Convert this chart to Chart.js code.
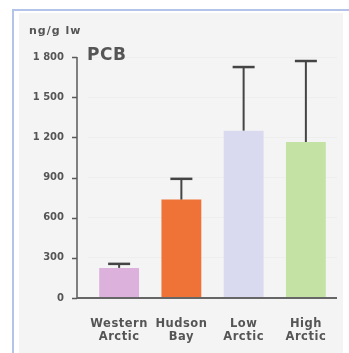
<!DOCTYPE html>
<html>
<head>
<meta charset="utf-8">
<script src="https://cdn.jsdelivr.net/npm/chart.js@4.4.0/dist/chart.umd.min.js"></script>
<style>
  html, body { margin: 0; padding: 0; background: #ffffff; }
  #wrap { position: relative; width: 349px; height: 353px; }
</style>
</head>
<body>
<div id="wrap"><canvas id="c" width="349" height="353"></canvas></div>
<script>
// ---- data ----
const categories = [["Western", "Arctic"], ["Hudson", "Bay"], ["Low", "Arctic"], ["High", "Arctic"]];
const pcbValues = [225, 735, 1250, 1165];
const pcbErrors = [30, 155, 475, 605];   // upper error-bar length
const barColors = ["#dcb2dc", "#ef7237", "#d9d9f0", "#c4e2a4"];
const yTicks = [0, 300, 600, 900, 1200, 1500, 1800];
const unitLabel = "ng/g lw";
const seriesLabel = "PCB";

const textColor = "#555555";
const fontFamily = "'DejaVu Sans', 'Liberation Sans', sans-serif";

const framePlugin = {
  id: 'frame',
  afterUpdate(chart) {
    const xs = chart.scales.x;
    if (xs && !xs._spaced) {
      const orig = xs.drawLabels;
      xs.drawLabels = function (area) {
        const ctx = this.ctx;
        const prev = ctx.letterSpacing;
        ctx.letterSpacing = '0.5px';
        orig.call(this, area);
        ctx.letterSpacing = prev || '0px';
      };
      xs._spaced = true;
    }
  },
  beforeDraw(chart) {
    const ctx = chart.ctx;
    ctx.save();
    ctx.fillStyle = '#ffffff';
    ctx.fillRect(0, 0, chart.width, chart.height);
    ctx.fillStyle = '#f4f4f4';
    ctx.fillRect(19, 13, 324, chart.height - 13);
    ctx.strokeStyle = '#b3c4e8';
    ctx.lineWidth = 2;
    ctx.beginPath();
    ctx.moveTo(13, chart.height);
    ctx.lineTo(13, 10);
    ctx.lineTo(chart.width, 10);
    ctx.stroke();
    ctx.restore();
  },
  afterDraw(chart) {
    const ctx = chart.ctx;
    const y = chart.scales.y;
    const area = chart.chartArea;
    const axisX = area.left - 11;
    ctx.save();
    ctx.strokeStyle = '#5a5a5a';
    ctx.lineWidth = 1.5;
    ctx.beginPath();
    ctx.moveTo(axisX, y.getPixelForValue(1800));
    ctx.lineTo(axisX, y.getPixelForValue(0));
    yTicks.forEach(v => {
      const py = Math.round(y.getPixelForValue(v)) + 0.5;
      ctx.moveTo(axisX - 5, py);
      ctx.lineTo(axisX, py);
    });
    ctx.stroke();
    ctx.lineWidth = 2;
    ctx.strokeStyle = '#666666';
    ctx.beginPath();
    const by = y.getPixelForValue(0);
    ctx.moveTo(axisX, by);
    ctx.lineTo(area.right, by);
    ctx.stroke();
    // texts
    ctx.fillStyle = textColor;
    ctx.textBaseline = 'middle';
    ctx.textAlign = 'left';
    ctx.letterSpacing = '1px';
    ctx.font = "bold 11px " + fontFamily;
    ctx.fillText(unitLabel, 29, 31);
    ctx.letterSpacing = '0.5px';
    ctx.font = "bold 17px " + fontFamily;
    ctx.fillText(seriesLabel, 87, 56);
    ctx.restore();
  }
};

const errorBarPlugin = {
  id: 'errorBars',
  afterDatasetsDraw(chart) {
    const ctx = chart.ctx;
    const meta = chart.getDatasetMeta(0);
    const y = chart.scales.y;
    ctx.save();
    ctx.strokeStyle = '#444444';
    meta.data.forEach((bar, i) => {
      const top = y.getPixelForValue(pcbValues[i] + pcbErrors[i]);
      const base = y.getPixelForValue(pcbValues[i]);
      ctx.lineWidth = 2;
      ctx.beginPath();
      ctx.moveTo(bar.x, base);
      ctx.lineTo(bar.x, top);
      ctx.stroke();
      ctx.lineWidth = 2.5;
      ctx.beginPath();
      ctx.moveTo(bar.x - 11, top);
      ctx.lineTo(bar.x + 11, top);
      ctx.stroke();
    });
    ctx.restore();
  }
};

new Chart(document.getElementById('c'), {
  type: 'bar',
  data: {
    labels: categories,
    datasets: [{
      data: pcbValues,
      backgroundColor: barColors,
      borderWidth: 0,
      barPercentage: 0.64,
      categoryPercentage: 1.0
    }]
  },
  options: {
    responsive: false,
    animation: false,
    events: [],
    layout: { padding: { top: 57, right: 12, left: 0, bottom: 0 } },
    plugins: { legend: { display: false }, tooltip: { enabled: false }, title: { display: false } },
    scales: {
      x: {
        grid: { display: false, drawTicks: false },
        border: { display: false },
        ticks: {
          color: textColor,
          font: { family: fontFamily, size: 11.5, weight: 'bold', lineHeight: 1.1 },
          padding: 20,
          maxRotation: 0,
          autoSkip: false
        },
        afterFit(scale) { scale.height = 55; }
      },
      y: {
        min: 0,
        max: 1800,
        afterBuildTicks(scale) { scale.ticks = yTicks.map(v => ({ value: v })); },
        grid: { drawTicks: false, color: 'rgba(0,0,0,0.025)' },
        border: { display: false },
        ticks: {
          color: textColor,
          font: { family: fontFamily, size: 10, weight: 'bold' },
          padding: 24,
          callback(v) { return v >= 1000 ? Math.floor(v / 1000) + ' ' + String(v % 1000).padStart(3, '0') : String(v); }
        },
        afterFit(scale) { scale.width = 88; }
      }
    }
  },
  plugins: [framePlugin, errorBarPlugin]
});
</script>
</body>
</html>
